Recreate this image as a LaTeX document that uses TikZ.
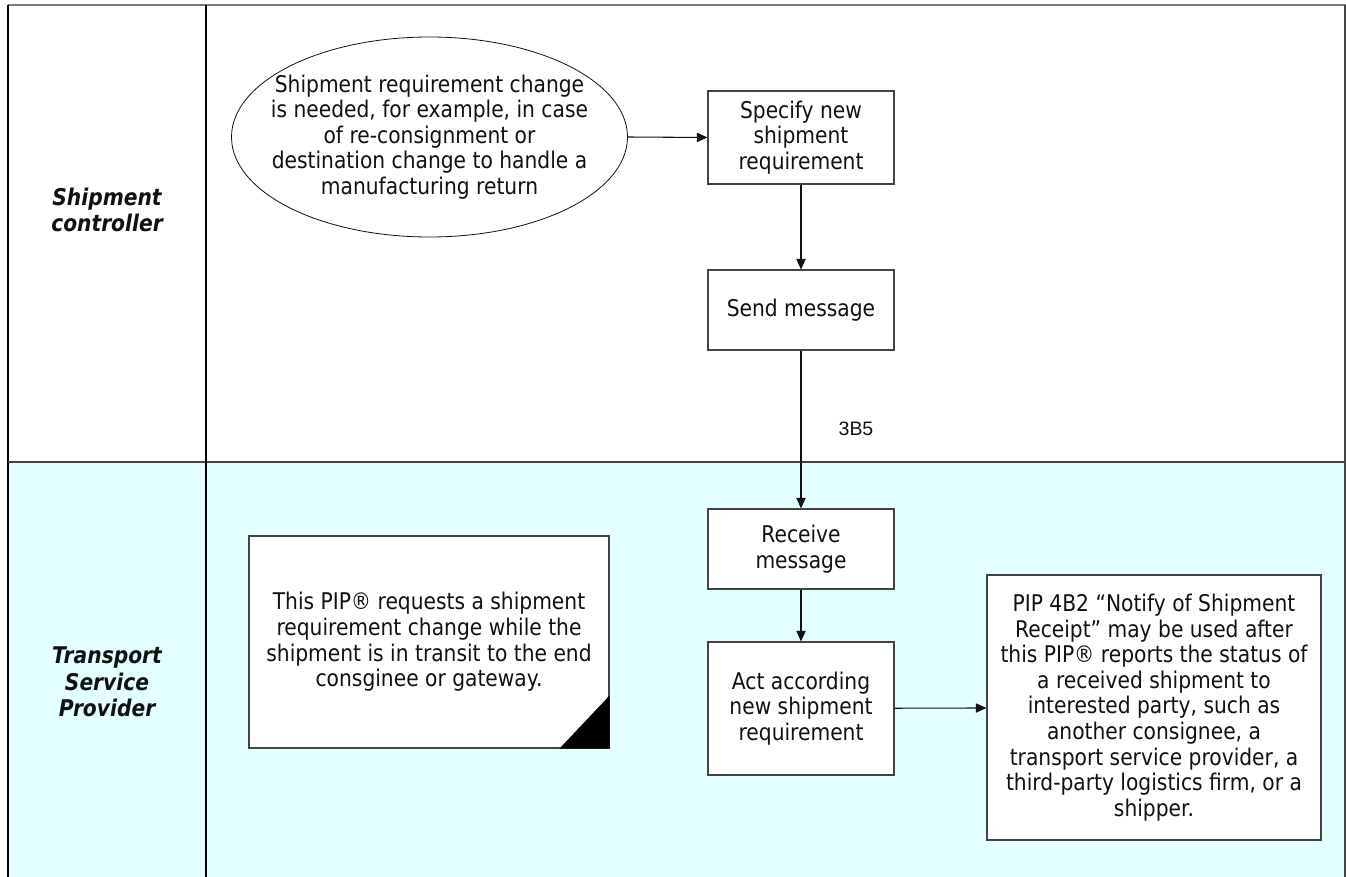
\documentclass[tikz,border=0pt]{standalone}
\usepackage{fontspec}
\setmainfont[FakeStretch=0.88]{DejaVu Sans}
\newfontfamily\labelfont{Liberation Sans}
\usepackage{tikz}
\usetikzlibrary{arrows.meta,shapes.geometric}
\definecolor{Ink}{HTML}{111111}
\definecolor{Frame}{HTML}{444444}
\definecolor{LaneTwo}{HTML}{E3FFFF}

\begin{document}
\begin{tikzpicture}[x=0.75pt,y=-0.75pt,>={Triangle[length=8pt,width=7pt]},
  every node/.style={text=Ink,font=\fontsize{17.25}{19.2}\selectfont},
  task/.style={draw=Frame,line width=0.8pt,fill=white,align=center,inner sep=0pt,minimum width=139.5pt},
  lane/.style={align=center,font=\fontsize{17.25}{19.8}\selectfont\bfseries\itshape},
  flow/.style={Ink,line width=0.8pt,->}]
  \useasboundingbox (0,0) rectangle (1346,877);
  % swim lanes
  \fill[LaneTwo] (8,462) rectangle (1346,877);
  \draw[Frame!70,line width=1.3pt] (8,5) -- (1346,5);
  \draw[black,line width=1.2pt] (8,5) -- (8,877);
  \draw[Frame,line width=1.2pt] (1345,5) -- (1345,877);
  \draw[Frame,line width=1pt] (8,462) -- (1345,462);
  \draw[black,line width=1pt] (206,5) -- (206,877);
  \node[lane] (ctrl) at (107,210) {Shipment\\controller};
  \node[lane] (tsp) at (107,682) {Transport\\Service\\Provider};
  % shipment controller
  \node[ellipse,draw=Ink,line width=0.6pt,fill=white,align=center,inner xsep=-14pt,inner ysep=0pt,
        minimum width=297pt,minimum height=150pt] (need) at (429.5,137)
    {Shipment requirement change\\is needed, for example, in case\\of re-consignment or\\destination change to handle a\\manufacturing return};
  \node[task,minimum height=69.75pt] (spec) at (801,137.5) {Specify new\\shipment\\requirement};
  \node[task,minimum height=60pt] (send) at (801,310) {Send message};
  % transport service provider
  \node[task,minimum height=60pt] (recv) at (801,549) {Receive\\message};
  \node[task,minimum height=99.75pt] (act) at (801,708.5) {Act according\\new shipment\\requirement};
  \node[task,minimum width=250.5pt,minimum height=198.75pt] (pip) at (1154,707.5)
    {PIP 4B2 “Notify of Shipment\\Receipt” may be used after\\this PIP® reports the status of\\a received shipment to\\interested party, such as\\another consignee, a\\transport service provider, a\\third-party logistics firm, or a\\shipper.};
  \node[task,minimum width=270pt,minimum height=159pt] (note) at (429,642)
    {This PIP® requests a shipment\\requirement change while the\\shipment is in transit to the end\\consginee or gateway.};
  \fill[black] (note.south east) -- ++(-50,0) -- ++(50,-53) -- cycle;
  \node[font=\labelfont\fontsize{14.6}{16}\selectfont] (pipcode) at (856,429) {3B5};
  % connectors
  \draw[flow] (need.east) -- (spec.west);
  \draw[flow] (spec) -- (send);
  \draw[flow] (send) -- (recv);
  \draw[flow] (recv) -- (act);
  \draw[flow] (act) -- (pip);
\end{tikzpicture}
\end{document}
